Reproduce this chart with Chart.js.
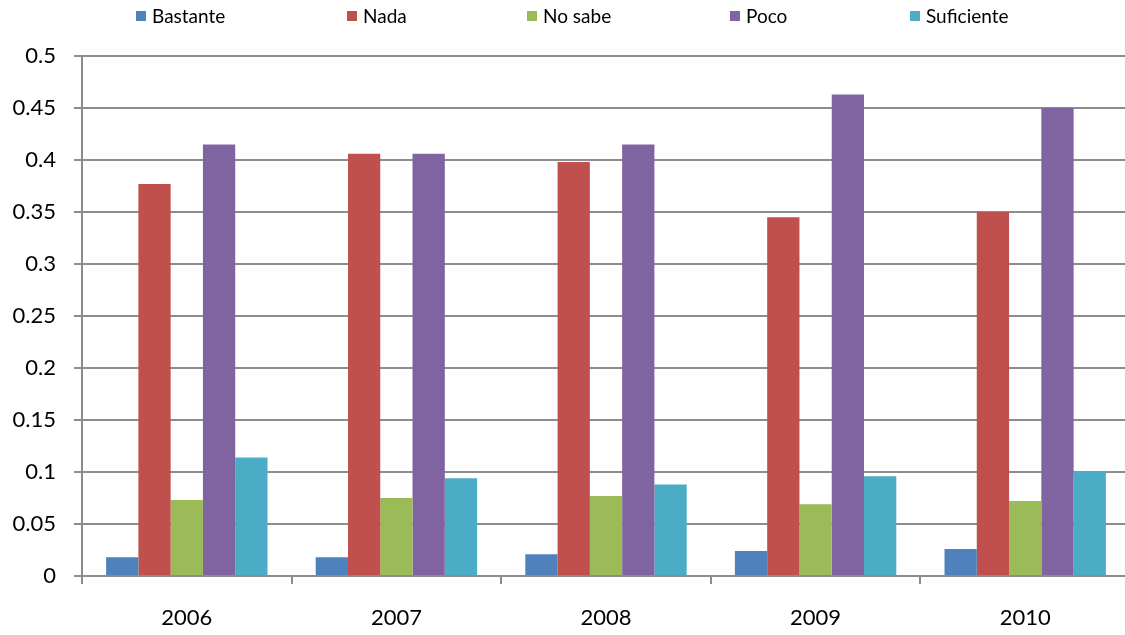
<!DOCTYPE html>
<html>
<head>
<meta charset="utf-8">
<script src="https://cdn.jsdelivr.net/npm/chart.js@4.4.0/dist/chart.umd.min.js"></script>
<style>
	html, body { margin: 0; padding: 0; background: #fff; overflow: hidden; }
	#wrap { width: 1135px; height: 635px; }
</style>
</head>
<body>
<div id="wrap"><canvas id="myChart"></canvas></div>
<script>
const years = ['2006', '2007', '2008', '2009', '2010']
const bastante = [0.018, 0.018, 0.021, 0.024, 0.026]
const nada = [0.377, 0.406, 0.398, 0.345, 0.350]
const noSabe = [0.073, 0.075, 0.077, 0.069, 0.072]
const poco = [0.415, 0.406, 0.415, 0.463, 0.450]
const suficiente = [0.114, 0.094, 0.088, 0.096, 0.101]

const gridColor = '#8c8c8c'
const fontFamily = 'Lato, "Noto Sans", sans-serif'

// legend drawn by hand so entries sit in Excel-like slots across the top
const topLegend = {
	id: 'topLegend',
	afterDraw(chart) {
		const ctx = chart.ctx
		const slots = [136, 347, 527, 730, 910]
		ctx.save()
		ctx.font = '19px ' + fontFamily
		ctx.textBaseline = 'middle'
		chart.data.datasets.forEach((ds, i) => {
			ctx.fillStyle = ds.backgroundColor
			ctx.fillRect(slots[i], 11, 10, 10)
			ctx.fillStyle = '#000'
			ctx.fillText(ds.label, slots[i] + 16, 17)
		})
		ctx.restore()
	},
}

const ctx = document.getElementById('myChart')
new Chart(ctx, {
	type: 'bar',
	data: {
		labels: years,
		datasets: [
			{ label: 'Bastante', data: bastante, backgroundColor: '#4f81bd' },
			{ label: 'Nada', data: nada, backgroundColor: '#c0504d' },
			{ label: 'No sabe', data: noSabe, backgroundColor: '#9bbb59' },
			{ label: 'Poco', data: poco, backgroundColor: '#8064a2' },
			{ label: 'Suficiente', data: suficiente, backgroundColor: '#4bacc6' },
		],
	},
	options: {
		responsive: true,
		maintainAspectRatio: false,
		animation: false,
		layout: { padding: { top: 56, right: 5, left: 0, bottom: 0 } },
		datasets: {
			bar: { categoryPercentage: 0.77, barPercentage: 1.0 },
		},
		plugins: {
			legend: { display: false },
			tooltip: { enabled: false },
		},
		scales: {
			x: {
				grid: {
					offset: true,
					drawOnChartArea: false,
					drawTicks: true,
					tickLength: 8,
					color: gridColor,
					lineWidth: 2,
				},
				border: { color: gridColor, width: 2 },
				ticks: {
					color: '#000',
					font: { family: fontFamily, size: 22 },
					padding: 21,
					maxRotation: 0,
				},
				afterFit(scale) { scale.height = 59 },
			},
			y: {
				min: 0,
				max: 0.5,
				ticks: {
					stepSize: 0.05,
					color: '#000',
					font: { family: fontFamily, size: 22 },
					padding: 18,
					callback: (v) => Number(v.toFixed(2)).toString(),
				},
				grid: {
					color: gridColor,
					lineWidth: 2,
					tickLength: 8,
				},
				border: { color: gridColor, width: 2 },
				afterFit(scale) { scale.width = 82 },
			},
		},
	},
	plugins: [topLegend],
})
</script>
</body>
</html>
